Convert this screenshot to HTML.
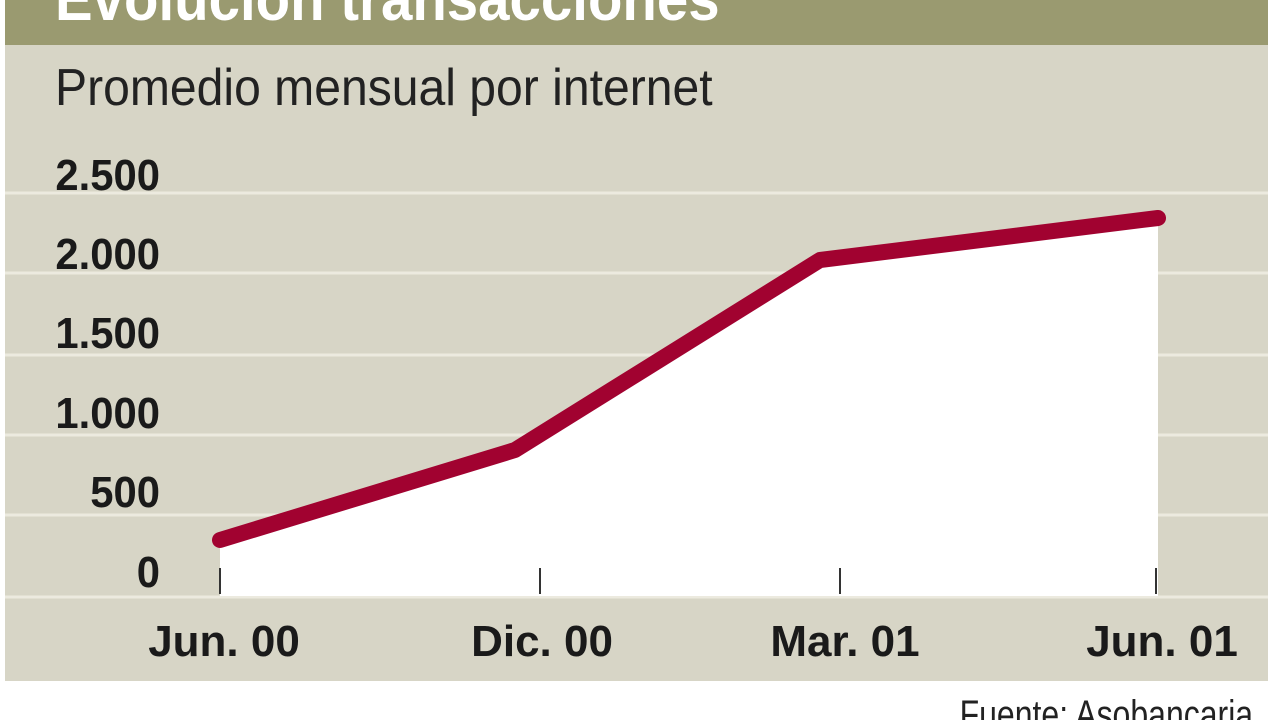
<!DOCTYPE html>
<html><head><meta charset="utf-8"><style>
html,body{margin:0;padding:0;width:1280px;height:720px;overflow:hidden;background:#fff;}
svg{display:block}
text{font-family:"Liberation Sans",sans-serif;}
</style></head><body>
<svg width="1280" height="720" viewBox="0 0 1280 720">
<rect x="0" y="0" width="1280" height="720" fill="#fff"/>
<rect x="5" y="0" width="1263" height="45" fill="#9a9a70"/>
<rect x="5" y="45" width="1263" height="636" fill="#d7d5c6"/>
<text x="55" y="20" font-size="62" font-weight="bold" fill="#fff" transform="translate(55,0) scale(0.91,1) translate(-55,0)">Evolución transacciones</text>
<text x="55" y="105" font-size="52" fill="#222" transform="translate(55,0) scale(0.925,1) translate(-55,0)">Promedio mensual por internet</text>
<g stroke="#eceadf" stroke-width="3">
<line x1="5" y1="193" x2="1268" y2="193"/>
<line x1="5" y1="273" x2="1268" y2="273"/>
<line x1="5" y1="355" x2="1268" y2="355"/>
<line x1="5" y1="435" x2="1268" y2="435"/>
<line x1="5" y1="515" x2="1268" y2="515"/>
<line x1="5" y1="597" x2="1268" y2="597"/>
</g>
<polygon points="220,540 515,450 820,260 1158,218 1158,596 220,596" fill="#fff"/>
<g stroke="#333" stroke-width="2">
<line x1="220" y1="568" x2="220" y2="594"/>
<line x1="540" y1="568" x2="540" y2="594"/>
<line x1="840" y1="568" x2="840" y2="594"/>
<line x1="1156" y1="568" x2="1156" y2="594"/>
</g>
<polyline points="220,540 515,450 820,260 1158,218" fill="none" stroke="#a10230" stroke-width="16" stroke-linejoin="round" stroke-linecap="round"/>
<g font-size="44" font-weight="bold" fill="#1a1a1a" text-anchor="end">
<text x="160" y="190" transform="translate(160,0) scale(0.95,1) translate(-160,0)">2.500</text>
<text x="160" y="269" transform="translate(160,0) scale(0.95,1) translate(-160,0)">2.000</text>
<text x="160" y="348" transform="translate(160,0) scale(0.95,1) translate(-160,0)">1.500</text>
<text x="160" y="428" transform="translate(160,0) scale(0.95,1) translate(-160,0)">1.000</text>
<text x="160" y="507" transform="translate(160,0) scale(0.95,1) translate(-160,0)">500</text>
<text x="160" y="587" transform="translate(160,0) scale(0.95,1) translate(-160,0)">0</text>
</g>
<g font-size="44" font-weight="bold" fill="#1a1a1a" text-anchor="middle">
<text x="224" y="656" transform="translate(224,0) scale(1,1) translate(-224,0)">Jun. 00</text>
<text x="542" y="656" transform="translate(542,0) scale(1,1) translate(-542,0)">Dic. 00</text>
<text x="845" y="656" transform="translate(845,0) scale(1,1) translate(-845,0)">Mar. 01</text>
<text x="1162" y="656" transform="translate(1162,0) scale(1,1) translate(-1162,0)">Jun. 01</text>
</g>
<text x="1262" y="728" font-size="40" fill="#222" text-anchor="end" transform="translate(1262,0) scale(0.8,1) translate(-1262,0)">Fuente: Asobancaria.</text>
</svg>
</body></html>
